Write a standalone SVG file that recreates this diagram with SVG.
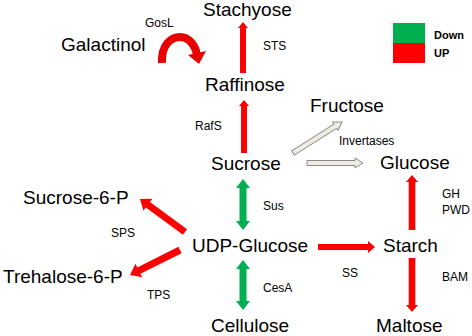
<svg xmlns="http://www.w3.org/2000/svg" width="472" height="336" viewBox="0 0 472 336">
<style>
.big{font-family:"Liberation Sans",Arial,sans-serif;font-size:19px;fill:#000}
.sm{font-family:"Liberation Sans",Arial,sans-serif;font-size:12px;fill:#000}
.lg{font-family:"Liberation Sans",Arial,sans-serif;font-size:11px;font-weight:bold;fill:#000}
.red{fill:#ff0000}
.grn{fill:#00b050}
.gry{fill:#eeece1;stroke:#8c8c8c;stroke-width:1}
</style>
<rect width="472" height="336" fill="#fff"/>
<g id="connectors">
  <polygon class="red" points="240,73 240,28 238,28 243,22 248,28 246,28 246,73"/>
  <polygon class="red" points="241,153 241,106 239,106 244,100 249,106 247,106 247,153"/>
  <polygon class="grn" points="243,179 250,188 246.5,188 246.5,221 250,221 243,230 236,221 239.5,221 239.5,188 236,188"/>
  <polygon class="grn" points="243,260 250,269 246.5,269 246.5,301 250,301 243,310 236,301 239.5,301 239.5,269 236,269"/>
  <polygon class="red" points="318,244 368,244 368,241 375,247 368,253 368,250 318,250"/>
  <polygon class="red" points="408.7,230 408.7,182 406,182 412,175 418,182 415.3,182 415.3,230"/>
  <polygon class="red" points="408.7,258 408.7,305 406,305 412,312 418,305 415.3,305 415.3,258"/>
  <polygon class="red" points="0,-3.5 46,-3.5 46,-7.5 55.8,0 46,7.5 46,3.5 0,3.5" transform="translate(185,232) rotate(-143.75)"/>
  <polygon class="red" points="0,-3.5 46,-3.5 46,-7.5 55.9,0 46,7.5 46,3.5 0,3.5" transform="translate(180,250) rotate(153.43)"/>
  <polygon class="gry" points="307,160.5 355,160.5 355,158 363,163 355,168 355,165.5 307,165.5"/>
  <polygon class="gry" points="0,-2.5 50,-2.5 50,-5 58,0 50,5 50,2.5 0,2.5" transform="translate(293,153) rotate(-32.3)"/>
  <path d="M162,63 C161,45 171,37 180,37 C188,37 195,44 197,55" fill="none" stroke="#e60000" stroke-width="8"/>
  <polygon points="188,55 206,51 199,64" fill="#e60000"/>
</g>
<g id="node-stachyose"><text class="big" x="203" y="16">Stachyose</text></g>
<g id="node-raffinose"><text class="big" x="205" y="91">Raffinose</text></g>
<g id="node-sucrose"><text class="big" x="211" y="170">Sucrose</text></g>
<g id="node-udpglucose"><text class="big" x="192" y="252">UDP-Glucose</text></g>
<g id="node-cellulose"><text class="big" x="211" y="332">Cellulose</text></g>
<g id="node-galactinol"><text class="big" x="61" y="51">Galactinol</text></g>
<g id="node-fructose"><text class="big" x="310" y="112">Fructose</text></g>
<g id="node-glucose"><text class="big" x="380" y="169">Glucose</text></g>
<g id="node-starch"><text class="big" x="383" y="252">Starch</text></g>
<g id="node-maltose"><text class="big" x="376" y="332">Maltose</text></g>
<g id="node-sucrose6p"><text class="big" x="23" y="204">Sucrose-6-P</text></g>
<g id="node-trehalose6p"><text class="big" x="3" y="283">Trehalose-6-P</text></g>
<g id="labels">
  <text class="sm" x="145" y="27">GosL</text>
  <text class="sm" x="263" y="50">STS</text>
  <text class="sm" x="195" y="130">RafS</text>
  <text class="sm" x="339" y="145">Invertases</text>
  <text class="sm" x="263" y="210">Sus</text>
  <text class="sm" x="442" y="198">GH</text>
  <text class="sm" x="442" y="214">PWD</text>
  <text class="sm" x="111" y="237">SPS</text>
  <text class="sm" x="342" y="277">SS</text>
  <text class="sm" x="147" y="299">TPS</text>
  <text class="sm" x="263" y="292">CesA</text>
  <text class="sm" x="442" y="281">BAM</text>
</g>
<g id="legend">
  <rect x="393" y="23" width="32" height="20" fill="#00b050"/>
  <rect x="393" y="43" width="32" height="20" fill="#ff0000"/>
  <text class="lg" x="434" y="39">Down</text>
  <text class="lg" x="434" y="57">UP</text>
</g>
</svg>
